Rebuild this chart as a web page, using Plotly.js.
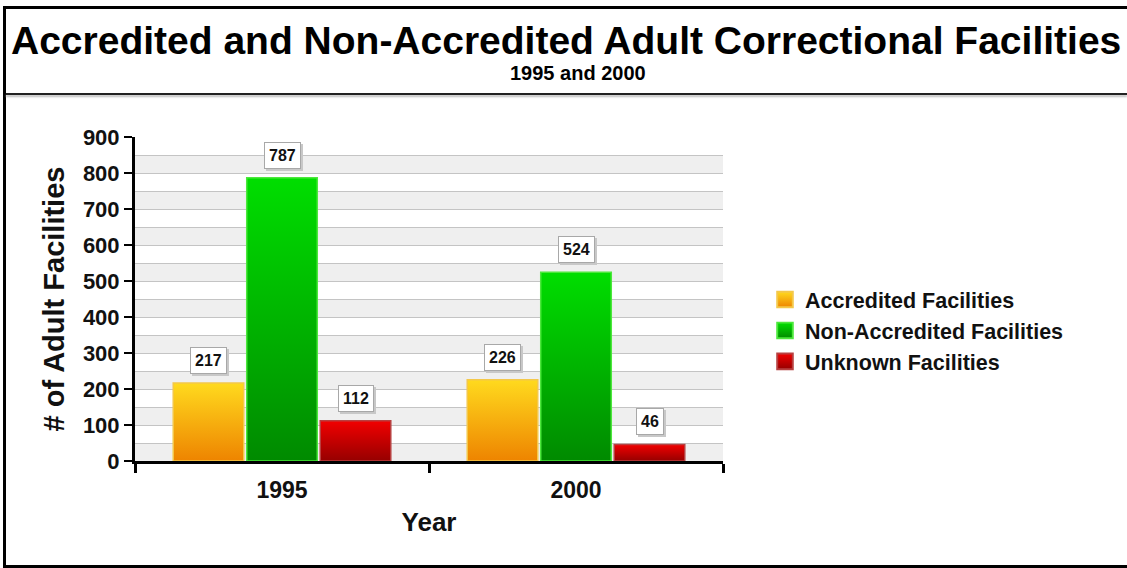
<!DOCTYPE html>
<html><head><meta charset="utf-8">
<script src="https://cdn.plot.ly/plotly-3.0.1.min.js"></script>
<style>
html,body{margin:0;padding:0;background:#fff;overflow:hidden}
#wrap{position:relative;width:1127px;height:568px}
#chart{position:absolute;left:0;top:0;width:1127px;height:568px}
#frame{position:absolute;left:3px;top:6px;width:1130px;height:556px;border:3px solid #000;pointer-events:none}
#sep{position:absolute;left:6px;top:93px;width:1121px;height:2px;background:#222;box-shadow:0 2px 2px #bbb;pointer-events:none}
</style></head>
<body><div id="wrap"><div id="chart"></div><div id="frame"></div><div id="sep"></div></div>
<script>
// ---- data ----
const years = ['1995', '2000'];
const accredited = [217, 226];
const nonAccredited = [787, 524];
const unknown = [112, 46];
const seriesNames = ['Accredited Facilities', 'Non-Accredited Facilities', 'Unknown Facilities'];
const yTickVals = [0, 100, 200, 300, 400, 500, 600, 700, 800, 900];
const titleText = 'Accredited and Non-Accredited Adult Correctional Facilities';
const subtitleText = '1995 and 2000';
const xTitle = 'Year';
const yTitle = '# of Adult Facilities';

// ---- styling ----
const FONT = 'Liberation Sans, Arial, Helvetica, sans-serif';
const gradients = [
  ['#FFDA1E', '#EE8400'],
  ['#00DE00', '#008A00'],
  ['#F20000', '#960000']
];
const baseColors = ['#F7B00C', '#00B400', '#C80000'];
const lineColors = ['#F4C84A', '#4CE83C', '#B84040'];
const seriesValues = [accredited, nonAccredited, unknown];
const groups = ['a', 'b', 'c'];

const traces = seriesValues.map((vals, i) => ({
  type: 'bar',
  name: seriesNames[i],
  x: years,
  y: vals,
  legendgroup: groups[i],
  marker: {color: baseColors[i], line: {color: lineColors[i], width: 1.5}},
  hoverinfo: 'skip'
}));

// data labels (boxes above bars)
const offsets = [-0.25, 0, 0.25];
const annotations = [];
seriesValues.forEach((vals, i) => {
  vals.forEach((v, j) => {
    const x = j + offsets[i];
    annotations.push({
      x: x, y: v, xref: 'x', yref: 'y', text: String(v), showarrow: false,
      yanchor: 'bottom', yshift: 7, xshift: 2,
      font: {family: FONT, size: 16, color: '#c8c8c8', weight: 'bold'},
      bgcolor: '#c8c8c8', bordercolor: '#c8c8c8', borderwidth: 1, borderpad: 4
    });
    annotations.push({
      x: x, y: v, xref: 'x', yref: 'y', text: String(v), showarrow: false,
      yanchor: 'bottom', yshift: 9,
      font: {family: FONT, size: 16, color: '#111', weight: 'bold'},
      bgcolor: '#ffffff', bordercolor: '#a8a8a8', borderwidth: 1, borderpad: 4
    });
  });
});

// title & subtitle
const L = 135, R = 723, T = 137, B = 461;
const pxX = px => (px - L) / (R - L);
const pxY = py => (B - py) / (B - T);
annotations.push({
  xref: 'paper', yref: 'paper', x: pxX(566), y: pxY(40), showarrow: false,
  text: titleText, xanchor: 'center', yanchor: 'middle',
  font: {family: FONT, size: 39, color: '#000', weight: 'bold'}
});
annotations.push({
  xref: 'paper', yref: 'paper', x: pxX(578), y: pxY(73), showarrow: false,
  text: subtitleText, xanchor: 'center', yanchor: 'middle',
  font: {family: FONT, size: 20, color: '#000', weight: 'bold'}
});

// alternating background bands
const shapes = yTickVals.slice(0, -1).map(v => ({
  type: 'rect', xref: 'paper', yref: 'y', x0: 0, x1: 1, y0: v, y1: v + 50,
  fillcolor: '#efefef', line: {width: 0}, layer: 'below'
}));

const layout = {
  width: 1127, height: 568,
  margin: {l: L, r: 1127 - R, t: T, b: 568 - B, pad: 0},
  paper_bgcolor: '#ffffff', plot_bgcolor: '#ffffff',
  barmode: 'group', bargap: 0.25, bargroupgap: 0.04,
  showlegend: true,
  legend: {
    x: pxX(765), y: pxY(279), xanchor: 'left', yanchor: 'top',
    traceorder: 'grouped', tracegroupgap: 0,
    font: {family: FONT, size: 21.5, color: '#111', weight: 'bold'},
    bgcolor: 'rgba(0,0,0,0)'
  },
  xaxis: {
    type: 'category', range: [-0.5, 1.5],
    showline: true, linecolor: '#000', linewidth: 3,
    ticks: 'outside', tickson: 'boundaries', ticklen: 9, tickwidth: 3, tickcolor: '#000',
    ticklabelstandoff: 6,
    tickfont: {family: FONT, size: 23, color: '#111', weight: 'bold'},
    showgrid: false, zeroline: false,
    title: {text: xTitle, standoff: 12, font: {family: FONT, size: 26, color: '#111', weight: 'bold'}}
  },
  yaxis: {
    range: [0, 900], tickvals: yTickVals,
    showline: true, linecolor: '#000', linewidth: 3,
    ticks: 'outside', ticklen: 8, tickwidth: 2, tickcolor: '#000',
    tickfont: {family: FONT, size: 22, color: '#111', weight: 'bold'},
    showgrid: true, gridcolor: '#c4c4c4', gridwidth: 1,
    minor: {dtick: 50, showgrid: true, gridcolor: '#c4c4c4', gridwidth: 1, ticks: ''},
    zeroline: false,
    title: {text: yTitle, standoff: 10, font: {family: FONT, size: 29, color: '#111', weight: 'bold'}}
  },
  annotations: annotations,
  shapes: shapes
};

Plotly.newPlot('chart', traces, layout, {staticPlot: true, displayModeBar: false}).then(() => {
  const svg = document.querySelector('#chart .main-svg');
  const NS = 'http://www.w3.org/2000/svg';
  let defs = svg.querySelector('defs');
  if (!defs) { defs = document.createElementNS(NS, 'defs'); svg.insertBefore(defs, svg.firstChild); }
  gradients.forEach((g, i) => {
    const lg = document.createElementNS(NS, 'linearGradient');
    lg.setAttribute('id', 'barGrad' + i);
    lg.setAttribute('x1', '0'); lg.setAttribute('y1', '0');
    lg.setAttribute('x2', '0'); lg.setAttribute('y2', '1');
    [[0, g[0]], [1, g[1]]].forEach(([o, c]) => {
      const st = document.createElementNS(NS, 'stop');
      st.setAttribute('offset', o); st.setAttribute('stop-color', c);
      lg.appendChild(st);
    });
    defs.appendChild(lg);
  });
  document.querySelectorAll('#chart .barlayer .trace').forEach((tr, i) => {
    tr.querySelectorAll('path').forEach(p => { p.style.fill = 'url(#barGrad' + i + ')'; });
  });
  document.querySelectorAll('#chart .legend .traces').forEach((tr, i) => {
    tr.querySelectorAll('.legendpoints path').forEach(p => {
      p.style.fill = 'url(#barGrad' + i + ')';
      const t = p.getAttribute('transform') || '';
      p.setAttribute('transform', t + ' scale(1.3)');
    });
  });
});
</script>
</body></html>
